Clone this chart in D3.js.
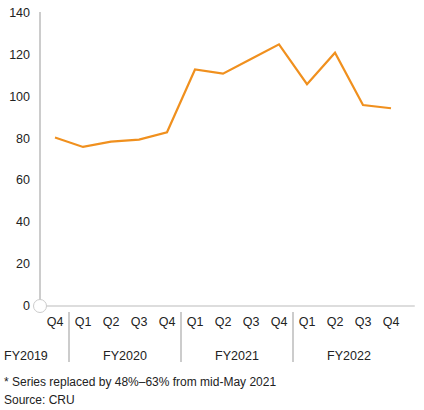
<!DOCTYPE html>
<html><head><meta charset="utf-8">
<script src="https://cdn.jsdelivr.net/npm/d3@7"></script>
<style>body{margin:0;background:#fff}text{font-family:"Liberation Sans",Arial,sans-serif;fill:#222}</style>
</head><body><div id="chart"></div>
<script>
var quarters = ["Q4","Q1","Q2","Q3","Q4","Q1","Q2","Q3","Q4","Q1","Q2","Q3","Q4"];
var values = [80.5, 76, 78.5, 79.5, 83, 113, 111, 118, 125, 106, 121, 96, 94.5];
var years = [{label:"FY2019", from:0, to:0}, {label:"FY2020", from:1, to:4}, {label:"FY2021", from:5, to:8}, {label:"FY2022", from:9, to:12}];
var yTicks = [0,20,40,60,80,100,120,140];

var width = 424, height = 410;
var svg = d3.select("#chart").append("svg").attr("width", width).attr("height", height);

var x = d3.scaleLinear().domain([-0.5, 12.5]).range([41, 405]);
var y = d3.scaleLinear().domain([0, 140]).range([306, 13]);

// y axis
svg.append("line").attr("x1",40).attr("x2",40).attr("y1",12).attr("y2",306).attr("stroke","#999").attr("stroke-width",1);
svg.selectAll(".yt").data(yTicks).enter().append("text")
  .attr("x",30).attr("y",function(d){return y(d)+4;}).attr("text-anchor","end").attr("font-size",12.5).text(function(d){return d;});

// baseline
svg.append("line").attr("x1",40).attr("x2",414).attr("y1",306).attr("y2",306).attr("stroke","#ddd").attr("stroke-width",2).attr("stroke-linecap","round");
svg.append("circle").attr("cx",40).attr("cy",306).attr("r",6.5).attr("fill","#fff").attr("stroke","#ccc");

// line
var line = d3.line().x(function(d,i){return x(i);}).y(function(d){return y(d);});
svg.append("path").datum(values).attr("d",line).attr("fill","none").attr("stroke","#f0901e").attr("stroke-width",2.2).attr("stroke-linejoin","miter");

// quarter labels
svg.selectAll(".q").data(quarters).enter().append("text")
  .attr("x",function(d,i){return x(i);}).attr("y",326).attr("text-anchor","middle").attr("font-size",12.5).text(function(d){return d;});

// separators and years
years.forEach(function(yr){
  if (yr.to < 12) {
    var sx = (x(yr.to)+x(yr.to+1))/2;
    svg.append("line").attr("x1",sx).attr("x2",sx).attr("y1",312).attr("y2",362).attr("stroke","#999");
  }
  var cx = yr.from === 0 ? 4 : (x(yr.from)+x(yr.to))/2;
  svg.append("text").attr("x",cx).attr("y",360).attr("text-anchor", yr.from === 0 ? "start" : "middle")
    .attr("font-size",12.5).text(yr.label);
});

svg.append("text").attr("x",4).attr("y",386).attr("font-size",12).text("* Series replaced by 48%\u201363% from mid-May 2021");
svg.append("text").attr("x",4).attr("y",404).attr("font-size",12).text("Source: CRU");
</script></body></html>
